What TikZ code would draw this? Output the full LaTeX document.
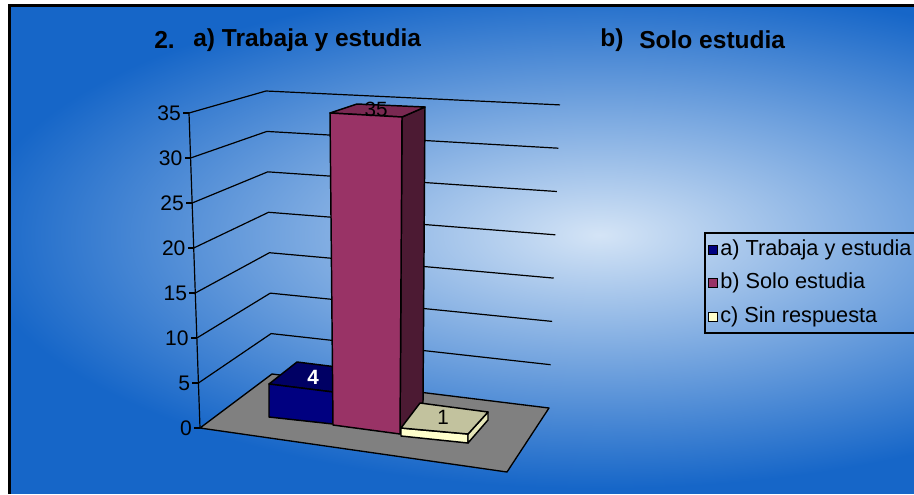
\documentclass[tikz,border=0pt]{standalone}
\usepackage{fontspec}
\setmainfont{Liberation Sans}
\usetikzlibrary{calc}
\definecolor{bgblue}{RGB}{22,102,200}
\definecolor{bglight}{RGB}{212,228,246}
\definecolor{floorgray}{RGB}{128,128,128}
\definecolor{afront}{RGB}{0,0,128}
\definecolor{atop}{RGB}{0,0,100}
\definecolor{bfront}{RGB}{153,51,102}
\definecolor{btop}{RGB}{122,41,82}
\definecolor{bside}{RGB}{76,26,51}
\definecolor{cfront}{RGB}{255,255,204}
\definecolor{ctop}{RGB}{194,194,158}
\definecolor{cside}{RGB}{230,230,184}
\tikzset{
  grid line/.style={black, line width=0.9pt},
  face/.style={draw=black, line width=1.1pt, line join=round},
  axlab/.style={font=\fontsize{15.8pt}{18pt}\selectfont, inner sep=0pt, anchor=east},
  datlab/.style={font=\fontsize{15.5pt}{17pt}\selectfont, inner sep=0pt},
  ttl/.style={font=\fontsize{18.4pt}{20pt}\selectfont\bfseries, inner sep=0pt, anchor=west},
  leglab/.style={font=\fontsize{16.3pt}{18pt}\selectfont, inner sep=0pt, anchor=west},
  swatch/.style={draw=black, line width=0.8pt, minimum size=6.8pt, inner sep=0pt},
}
\begin{document}
\begin{tikzpicture}[x=0.75pt,y=-0.75pt]
\useasboundingbox (0,0) rectangle (914,494);
\fill[white] (0,0) rectangle (914,494);
\fill[bgblue] (9,5) rectangle (914,494);
\begin{scope}
  \clip (9,5) rectangle (914,494);
  \shade[inner color=bglight, outer color=bgblue] (600,235) ellipse [x radius=470pt, y radius=190pt];
\end{scope}
\draw[black, line width=1.6pt] (9.5,494) -- (9.5,5.5) -- (914,5.5);

% titles
\node[ttl] (t2) at (154,40) {2.};
\node[ttl] (ta) at (193,40) {a) Trabaja y estudia};
\node[ttl] (tb) at (600,40) {b)};
\node[ttl] (ts) at (639,40) {Solo estudia};

% wall grid
\foreach \k in {0,...,7}{
  \coordinate (F\k) at ({200-\k*11/7},{428-45*\k});
  \coordinate (B\k) at ({272-\k*6/7},{374-40.43*\k});
  \coordinate (R\k) at ({549+\k*11/7},{408-43.3*\k});
}
\foreach \k in {1,...,7}{
  \draw[grid line] (F\k) -- (B\k) -- (R\k);
}
\draw[grid line] (F7) -- (F0);
\foreach \k/\v in {0/0,1/5,2/10,3/15,4/20,5/25,6/30,7/35}{
  \draw[grid line] (F\k) -- ++(-6,0);
  \node[axlab] (yl\k) at ($(F\k)+(-8,0)$) {\v};
}

% floor
\filldraw[fill=floorgray, draw=black, line width=1pt, line join=round] (F0) -- (B0) -- (R0) -- (507,472) -- cycle;

% bar a
\filldraw[face, fill=atop] (269,384) -- (297,362) -- (361,370) -- (333,392) -- cycle;
\filldraw[face, fill=afront] (269,384) -- (333,392) -- (333,424) -- (269,417) -- cycle;
\node[datlab, white, font=\fontsize{15.5pt}{17pt}\selectfont\bfseries] (la) at (313,377) {4};

% bar b
\filldraw[face, fill=bside] (402,117) -- (425,107) -- (423,402) -- (400,434) -- cycle;
\filldraw[face, fill=btop] (330,113) -- (357,104) -- (425,107) -- (402,117) -- cycle;
\filldraw[face, fill=bfront] (330,113) -- (402,117) -- (400,434) -- (333,425) -- cycle;
\node[datlab] (lb) at (376,109) {35};

% bar c
\filldraw[face, fill=cfront] (401,428) -- (468,434) -- (468,443) -- (401,436) -- cycle;
\filldraw[face, fill=cside] (468,434) -- (488,412) -- (488,420) -- (468,443) -- cycle;
\filldraw[face, fill=ctop] (401,428) -- (420,403) -- (488,412) -- (468,434) -- cycle;
\node[datlab] (lc) at (443,417) {1};

% legend
\draw[black, line width=1pt] (705,233) rectangle (920,333);
\node[swatch, fill=afront] (sa) at (713,250) {};
\node[swatch, fill=bfront] (sb) at (713,283) {};
\node[swatch, fill=cfront] (sc) at (713,317) {};
\node[leglab] (ga) at (720,250) {a) Trabaja y estudia};
\node[leglab] (gb) at (720,283) {b) Solo estudia};
\node[leglab] (gc) at (720,317) {c) Sin respuesta};
\end{tikzpicture}
\end{document}
